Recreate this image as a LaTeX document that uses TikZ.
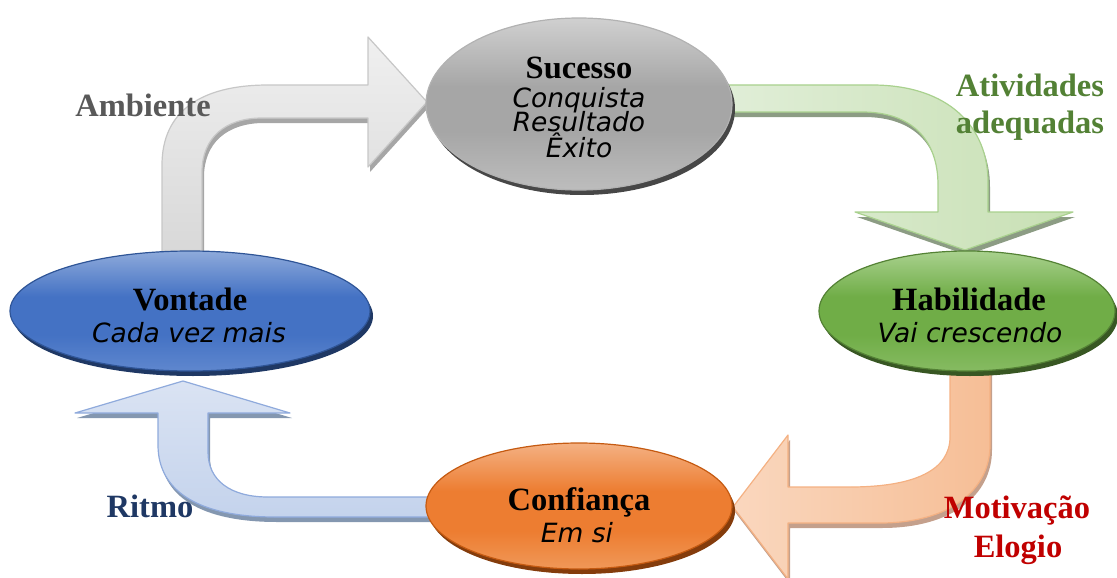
\documentclass[tikz,border=0pt]{standalone}
\usepackage{fontspec}
\setmainfont{Liberation Serif}
\newfontfamily\dv{DejaVu Sans}
\usetikzlibrary{shapes.geometric}
\definecolor{txgray}{HTML}{595959}
\definecolor{txgreen}{HTML}{538135}
\definecolor{txred}{HTML}{C00000}
\definecolor{txblue}{HTML}{1F3864}
\definecolor{gshd}{HTML}{8C9C84}
\definecolor{gdraw}{HTML}{A9D18E}
\definecolor{gl}{HTML}{E2EFDA}
\definecolor{gr}{HTML}{C8E0B4}
\definecolor{oshd}{HTML}{C4A08C}
\definecolor{odraw}{HTML}{F4B183}
\definecolor{ol}{HTML}{FAD7BE}
\definecolor{or}{HTML}{F6BE96}
\definecolor{bshd}{HTML}{8497B0}
\definecolor{bdraw}{HTML}{8FAADC}
\definecolor{bt}{HTML}{DAE3F3}
\definecolor{bb}{HTML}{C4D3EC}
\definecolor{vshd}{HTML}{1F3864}
\definecolor{vdraw}{HTML}{2F5597}
\definecolor{vt}{HTML}{8EAADB}
\definecolor{vm}{HTML}{4472C4}
\definecolor{vb}{HTML}{5F87CE}
\definecolor{hshd}{HTML}{385723}
\definecolor{hdraw}{HTML}{548235}
\definecolor{ht}{HTML}{A9D18E}
\definecolor{hm}{HTML}{70AD47}
\definecolor{hb}{HTML}{86BB62}
\definecolor{cshd}{HTML}{843C0C}
\definecolor{cdraw}{HTML}{C55A11}
\definecolor{ct}{HTML}{F4B183}
\definecolor{cm}{HTML}{ED7D31}
\definecolor{cb}{HTML}{F09858}
\definecolor{st}{HTML}{D0D0D0}
\definecolor{sm}{HTML}{A6A6A6}
\definecolor{sb}{HTML}{BDBDBD}
\pgfdeclareverticalshading{shv}{100bp}{color(0bp)=(vb); color(25bp)=(vb); color(40bp)=(vm); color(56bp)=(vm); color(75bp)=(vt); color(100bp)=(vt)}
\pgfdeclareverticalshading{shh}{100bp}{color(0bp)=(hb); color(25bp)=(hb); color(40bp)=(hm); color(56bp)=(hm); color(75bp)=(ht); color(100bp)=(ht)}
\pgfdeclareverticalshading{shc}{100bp}{color(0bp)=(cb); color(25bp)=(cb); color(40bp)=(cm); color(56bp)=(cm); color(75bp)=(ct); color(100bp)=(ct)}
\pgfdeclareverticalshading{shs}{100bp}{color(0bp)=(sb); color(25bp)=(sb); color(42bp)=(sm); color(55bp)=(sm); color(75bp)=(st); color(100bp)=(st)}
\begin{document}
\begin{tikzpicture}[x=1pt,y=-1pt,
  title/.style={font=\fontsize{32.5}{35}\selectfont\bfseries, anchor=base, inner sep=0pt},
  sub/.style={font=\dv\itshape\fontsize{26.5}{28}\selectfont, anchor=base, inner sep=0pt},
  blob/.style={ellipse, inner sep=0pt, line width=1.2pt},
  arr/.style={line width=1.2pt, line join=round}]
\useasboundingbox (0,0) rectangle (1117,578);
\def\pgray{(162,270) -- (162,165) .. controls (162,112) and (200,85) .. (268,85) -- (368,85) -- (368,37) -- (427,102) -- (368,167) -- (368,118) -- (262,118) .. controls (225,118) and (202,138) .. (202,172) -- (202,270) -- cycle}
\def\pgreen{(700,85) -- (872,85) .. controls (950,85) and (988,128) .. (988,182) -- (988,212) -- (1073,212) -- (965,250) -- (855,212) -- (938,212) -- (938,185) .. controls (938,140) and (912,112) .. (862,112) -- (700,112) -- cycle}
\def\porange{(950,350) -- (950,437) .. controls (950,470) and (915,487) .. (850,487) -- (788,487) -- (788,435) -- (733,507) -- (788,579) -- (788,523) -- (880,523) .. controls (950,523) and (990,490) .. (990,445) -- (990,350) -- cycle}
\def\pblue{(440,497) -- (268,497) .. controls (230,497) and (208,480) .. (208,452) -- (208,413) -- (290,413) -- (183,381) -- (75,413) -- (158,413) -- (158,445) .. controls (158,492) and (200,517) .. (275,517) -- (440,517) -- cycle}
% arrows with shadows
\fill[black!35, shift={(2,5)}] \pgray;
\path[arr, draw=black!22, top color=black!6, bottom color=black!16] \pgray;
\fill[gshd, shift={(2,5)}] \pgreen;
\path[arr, draw=gdraw, left color=gl, right color=gr] \pgreen;
\fill[oshd, shift={(2,5)}] \porange;
\path[arr, draw=odraw, left color=ol, right color=or] \porange;
\fill[bshd, shift={(2,5)}] \pblue;
\path[arr, draw=bdraw, top color=bt, bottom color=bb] \pblue;
% ellipse shadows
\fill[black!72] (582,109) ellipse [x radius=153, y radius=86];
\fill[vshd] (193,316) ellipse [x radius=180, y radius=60];
\fill[hshd] (970,316) ellipse [x radius=148, y radius=60];
\fill[cshd] (582,511) ellipse [x radius=153, y radius=63];
% ellipses
\node[blob, minimum width=306pt, minimum height=172pt, draw=black!30, shading=shs] (suc) at (579,104) {};
\node[blob, minimum width=360pt, minimum height=120pt, draw=vdraw, shading=shv] (von) at (190,311) {};
\node[blob, minimum width=296pt, minimum height=120pt, draw=hdraw, shading=shh] (hab) at (967,311) {};
\node[blob, minimum width=306pt, minimum height=126pt, draw=cdraw, shading=shc] (con) at (579,506) {};
% ellipse texts
\node[title] (t1) at (579,78) {Sucesso};
\node[sub] (t1a) at (579,107) {Conquista};
\node[sub] (t1b) at (579,131) {Resultado};
\node[sub] (t1c) at (579,157) {Êxito};
\node[title] (t2) at (190,310) {Vontade};
\node[sub] (t2a) at (189,342) {Cada vez mais};
\node[title] (t3) at (969,310) {Habilidade};
\node[sub] (t3a) at (970,342) {Vai crescendo};
\node[title] (t4) at (579,510) {Confiança};
\node[sub] (t4a) at (577,542) {Em si};
% arrow labels
\node[title, text=txgray] (l1) at (143,117) {Ambiente};
\node[title, text=txgreen] (l2) at (1030,96) {Atividades};
\node[title, text=txgreen] (l2b) at (1030,133) {adequadas};
\node[title, text=txred] (l3) at (1017,518) {Motivação};
\node[title, text=txred] (l3b) at (1018,557) {Elogio};
\node[title, text=txblue] (l4) at (150,517) {Ritmo};
\end{tikzpicture}
\end{document}
